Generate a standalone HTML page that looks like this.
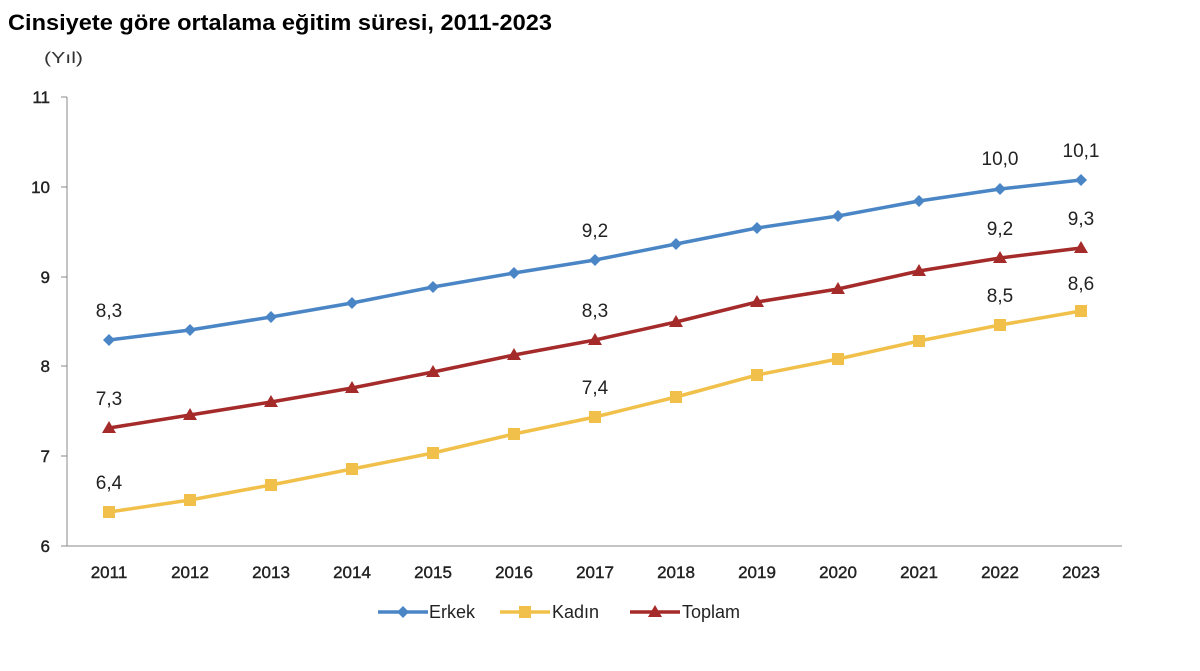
<!DOCTYPE html>
<html><head><meta charset="utf-8"><style>
body{margin:0;background:#fff;width:1200px;height:666px;overflow:hidden;font-family:"Liberation Sans",Arial,sans-serif}
</style></head><body>
<svg width="1200" height="666" xmlns="http://www.w3.org/2000/svg" font-family="Liberation Sans, Arial, sans-serif">
<text x="8" y="30" font-size="22" font-weight="bold" fill="#000" textLength="544" lengthAdjust="spacingAndGlyphs">Cinsiyete göre ortalama eğitim süresi, 2011-2023</text>
<text x="44" y="63" font-size="16" fill="#333" textLength="39" lengthAdjust="spacingAndGlyphs">(Yıl)</text>
<g stroke="#888" stroke-width="1">
<line x1="67" y1="97" x2="67" y2="546"/>
<line x1="67" y1="546" x2="1122" y2="546"/>
<line x1="61" y1="97" x2="67" y2="97"/><line x1="61" y1="187" x2="67" y2="187"/><line x1="61" y1="277" x2="67" y2="277"/><line x1="61" y1="366" x2="67" y2="366"/><line x1="61" y1="456" x2="67" y2="456"/><line x1="61" y1="546" x2="67" y2="546"/>
</g>
<g font-size="17" fill="#222" text-anchor="end" stroke="#222" stroke-width="0.4">
<text x="50" y="103">11</text><text x="50" y="193">10</text><text x="50" y="283">9</text><text x="50" y="372">8</text><text x="50" y="462">7</text><text x="50" y="552">6</text>
</g>
<g font-size="17" fill="#222" text-anchor="middle" stroke="#222" stroke-width="0.4">
<text x="109" y="578">2011</text><text x="190" y="578">2012</text><text x="271" y="578">2013</text><text x="352" y="578">2014</text><text x="433" y="578">2015</text><text x="514" y="578">2016</text><text x="595" y="578">2017</text><text x="676" y="578">2018</text><text x="757" y="578">2019</text><text x="838" y="578">2020</text><text x="919" y="578">2021</text><text x="1000" y="578">2022</text><text x="1081" y="578">2023</text>
</g>
<polyline fill="none" stroke="#4a86c5" stroke-width="3.5" points="109,340 190,330 271,317 352,303 433,287 514,273 595,260 676,244 757,228 838,216 919,201 1000,189 1081,180"/>
<polyline fill="none" stroke="#f0c04a" stroke-width="3.5" points="109,512 190,500 271,485 352,469 433,453 514,434 595,417 676,397 757,375 838,359 919,341 1000,325 1081,311"/>
<polyline fill="none" stroke="#a52a2a" stroke-width="3.5" points="109,428 190,415 271,402 352,388 433,372 514,355 595,340 676,322 757,302 838,289 919,271 1000,258 1081,248"/>
<g fill="#4a86c5">
<g transform="translate(109,340)"><path d="M0,-6 6,0 0,6 -6,0z"/></g><g transform="translate(190,330)"><path d="M0,-6 6,0 0,6 -6,0z"/></g><g transform="translate(271,317)"><path d="M0,-6 6,0 0,6 -6,0z"/></g><g transform="translate(352,303)"><path d="M0,-6 6,0 0,6 -6,0z"/></g><g transform="translate(433,287)"><path d="M0,-6 6,0 0,6 -6,0z"/></g><g transform="translate(514,273)"><path d="M0,-6 6,0 0,6 -6,0z"/></g><g transform="translate(595,260)"><path d="M0,-6 6,0 0,6 -6,0z"/></g><g transform="translate(676,244)"><path d="M0,-6 6,0 0,6 -6,0z"/></g><g transform="translate(757,228)"><path d="M0,-6 6,0 0,6 -6,0z"/></g><g transform="translate(838,216)"><path d="M0,-6 6,0 0,6 -6,0z"/></g><g transform="translate(919,201)"><path d="M0,-6 6,0 0,6 -6,0z"/></g><g transform="translate(1000,189)"><path d="M0,-6 6,0 0,6 -6,0z"/></g><g transform="translate(1081,180)"><path d="M0,-6 6,0 0,6 -6,0z"/></g>
</g>
<g fill="#f0c04a">
<rect x="103" y="506" width="12" height="12"/><rect x="184" y="494" width="12" height="12"/><rect x="265" y="479" width="12" height="12"/><rect x="346" y="463" width="12" height="12"/><rect x="427" y="447" width="12" height="12"/><rect x="508" y="428" width="12" height="12"/><rect x="589" y="411" width="12" height="12"/><rect x="670" y="391" width="12" height="12"/><rect x="751" y="369" width="12" height="12"/><rect x="832" y="353" width="12" height="12"/><rect x="913" y="335" width="12" height="12"/><rect x="994" y="319" width="12" height="12"/><rect x="1075" y="305" width="12" height="12"/>
</g>
<g fill="#a52a2a">
<path d="M109,421 116,433 102,433z"/><path d="M190,408 197,420 183,420z"/><path d="M271,395 278,407 264,407z"/><path d="M352,381 359,393 345,393z"/><path d="M433,365 440,377 426,377z"/><path d="M514,348 521,360 507,360z"/><path d="M595,333 602,345 588,345z"/><path d="M676,315 683,327 669,327z"/><path d="M757,295 764,307 750,307z"/><path d="M838,282 845,294 831,294z"/><path d="M919,264 926,276 912,276z"/><path d="M1000,251 1007,263 993,263z"/><path d="M1081,241 1088,253 1074,253z"/>
</g>
<g font-size="19" fill="#222" text-anchor="middle">
<text x="109" y="317">8,3</text><text x="595" y="237">9,2</text><text x="1000" y="165">10,0</text><text x="1081" y="157">10,1</text>
<text x="109" y="405">7,3</text><text x="595" y="317">8,3</text><text x="1000" y="235">9,2</text><text x="1081" y="225">9,3</text>
<text x="109" y="489">6,4</text><text x="595" y="394">7,4</text><text x="1000" y="302">8,5</text><text x="1081" y="290">8,6</text>
</g>
<g font-size="18" fill="#222">
<line x1="378" y1="612" x2="428" y2="612" stroke="#4a86c5" stroke-width="3.5"/><path d="M403,606 409,612 403,618 397,612z" fill="#4a86c5"/>
<text x="429" y="618">Erkek</text>
<line x1="500" y1="612" x2="550" y2="612" stroke="#f0c04a" stroke-width="3.5"/><rect x="519" y="606" width="12" height="12" fill="#f0c04a"/>
<text x="552" y="618">Kadın</text>
<line x1="630" y1="612" x2="680" y2="612" stroke="#a52a2a" stroke-width="3.5"/><path d="M655,605 662,617 648,617z" fill="#a52a2a"/>
<text x="682" y="618">Toplam</text>
</g>
</svg>
</body></html>
